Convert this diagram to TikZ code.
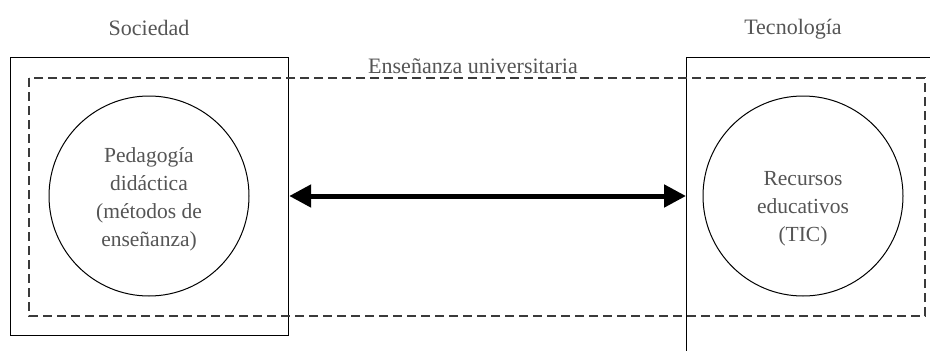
\documentclass[tikz,border=0pt]{standalone}
\usepackage{fontspec}
\setmainfont{Liberation Serif}
\usetikzlibrary{arrows.meta}
\definecolor{txtgray}{HTML}{555555}
\definecolor{dashgray}{HTML}{3A3A3A}
\tikzset{
  outerbox/.style={draw=black, line width=1.2pt, minimum width=278pt, inner sep=0pt},
  ringnode/.style={circle, draw=black, line width=1pt, minimum size=200pt, inner sep=0pt,
    align=center, text=txtgray, font=\fontsize{21.5}{28}\selectfont},
  labeltext/.style={text=txtgray, font=\fontsize{22}{24}\selectfont, inner sep=0pt, anchor=base},
  dashbox/.style={draw=dashgray, line width=1.2pt, dash pattern=on 9pt off 5pt},
  bothway/.style={line width=5pt, {Triangle[length=22pt,width=22pt]}-{Triangle[length=22pt,width=22pt]}}
}
\begin{document}
\begin{tikzpicture}[x=1pt,y=-1pt]
\useasboundingbox (0,0) rectangle (930,351);
\clip (0,0) rectangle (930,351);
\fill[white] (0,0) rectangle (930,351);
% outer boxes
\node[outerbox, minimum height=278pt, anchor=north west] (soc) at (10,57) {};
\node[outerbox, minimum height=340pt, anchor=north west] (tec) at (686,57) {};
% dashed frame
\draw[dashbox] (29,78) rectangle (925,316);
% circles
\node[ringnode] (ped) at (149,196) {\rule{0pt}{22pt}Pedagogía\\didáctica\\(métodos de\\enseñanza)};
\node[ringnode] (rec) at (803,196) {\rule{0pt}{40pt}Recursos\\educativos\\(TIC)};
% labels
\node[labeltext] (lsoc) at (149,35) {Sociedad};
\node[labeltext] (ltec) at (793,34) {Tecnología};
\node[labeltext] (lens) at (473,73) {Enseñanza universitaria};
% arrow
\coordinate (aL) at (soc.east |- rec.center);
\coordinate (aR) at (tec.west |- rec.center);
\draw[bothway] (aL) -- (aR);
\end{tikzpicture}
\end{document}
